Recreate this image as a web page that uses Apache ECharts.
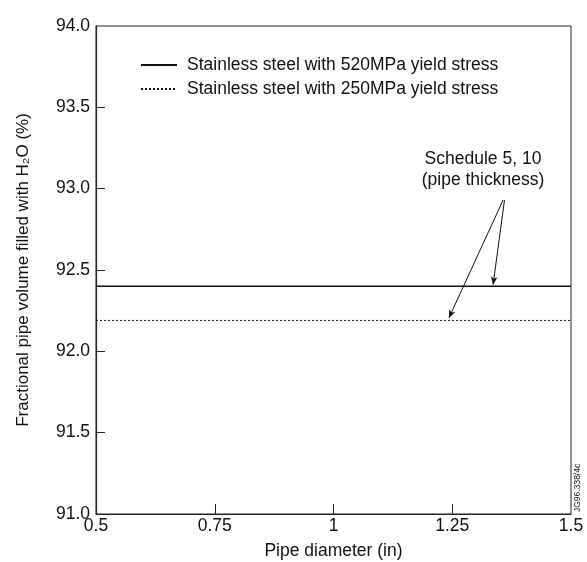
<!DOCTYPE html>
<html>
<head>
<meta charset="utf-8">
<script src="https://cdn.jsdelivr.net/npm/echarts@6/dist/echarts.min.js"></script>
<style>html,body{margin:0;padding:0;background:#fff}#c{width:587px;height:562px}</style>
</head>
<body>
<div id="c"></div>
<script>
// Data
const seriesNames = ['Stainless steel with 520MPa yield stress', 'Stainless steel with 250MPa yield stress'];
const xRange = [0.5, 1.5];
const values520 = [92.40, 92.40];
const values250 = [92.19, 92.19];
const xTicks = [0.5, 0.75, 1, 1.25, 1.5];
const yTicks = [91.0, 91.5, 92.0, 92.5, 93.0, 93.5, 94.0];
const annotationText = ['Schedule 5, 10', '(pipe thickness)'];
const arrowStarts = [[1.357, 92.93], [1.36, 92.93]];
const arrowEnds = [[1.243, 92.205], [1.336, 92.41]];
const stampText = 'JG96.338/4c';

const FONT = 'Liberation Sans, Arial, Helvetica, sans-serif';
const FS = 17.5;
const chart = echarts.init(document.getElementById('c'));

const arrowLines = arrowStarts.map((s, i) => [
  { coord: s, symbol: 'none' },
  { coord: arrowEnds[i], symbol: 'arrow', symbolSize: [5, 8] }
]);

chart.setOption({
  animation: false,
  backgroundColor: '#fff',
  textStyle: { fontFamily: FONT, color: '#111' },
  grid: { left: 96, right: 16, top: 26, bottom: 48, show: true, borderColor: '#222', borderWidth: 1,
    containLabel: false, outerBoundsMode: 'none' },
  legend: {
    orient: 'vertical', left: 135, top: 51, itemWidth: 36, itemHeight: 12, itemGap: 6,
    itemStyle: { opacity: 0 },
    textStyle: { fontFamily: FONT, fontSize: FS, color: '#111', padding: [0, 0, 0, 5] },
    data: seriesNames
  },
  xAxis: {
    type: 'value', min: xRange[0], max: xRange[1], interval: 0.25,
    name: 'Pipe diameter (in)', nameLocation: 'middle', nameGap: 28,
    nameTextStyle: { fontFamily: FONT, fontSize: FS, color: '#111' },
    axisLine: { lineStyle: { color: '#222', width: 1.2 } },
    axisTick: { inside: true, length: 10, lineStyle: { color: '#222' },
      customValues: xTicks.slice(1, -1) },
    axisLabel: { fontFamily: FONT, fontSize: FS, color: '#111', margin: 3,
      customValues: xTicks, formatter: v => String(v) },
    splitLine: { show: false }
  },
  yAxis: {
    type: 'value', min: yTicks[0], max: yTicks[yTicks.length - 1], interval: 0.5,
    name: 'Fractional pipe volume filled with H\u2082O (%)', nameLocation: 'middle', nameGap: 64,
    nameTextStyle: { fontFamily: FONT, fontSize: 17, color: '#111' },
    axisLine: { lineStyle: { color: '#222', width: 1.2 } },
    axisTick: { inside: true, length: 9, lineStyle: { color: '#222' },
      customValues: yTicks.slice(1, -1) },
    axisLabel: { fontFamily: FONT, fontSize: FS, color: '#111', margin: 6,
      formatter: v => v.toFixed(1) },
    splitLine: { show: false }
  },
  series: [
    { name: seriesNames[0], type: 'line', symbol: 'none',
      data: xRange.map((x, i) => [x, values520[i]]),
      lineStyle: { color: '#111', width: 1.3, type: 'solid' },
      itemStyle: { color: '#111' },
      markLine: { silent: true, symbol: ['none', 'arrow'], label: { show: false },
        lineStyle: { color: '#111', width: 1, type: 'solid' }, data: arrowLines }
    },
    { name: seriesNames[1], type: 'line', symbol: 'none',
      data: xRange.map((x, i) => [x, values250[i]]),
      lineStyle: { color: '#111', width: 1, type: [2, 2] },
      itemStyle: { color: '#111' }
    }
  ],
  graphic: [
    { type: 'text', x: 483, y: 149,
      style: { text: annotationText.join('\n'), font: FS + 'px ' + FONT, fill: '#111',
        align: 'center', lineHeight: 21 } },
    { type: 'text', x: 573, y: 512, rotation: Math.PI / 2,
      style: { text: stampText, font: '8.5px ' + FONT, fill: '#111' } }
  ]
});
</script>
</body>
</html>
